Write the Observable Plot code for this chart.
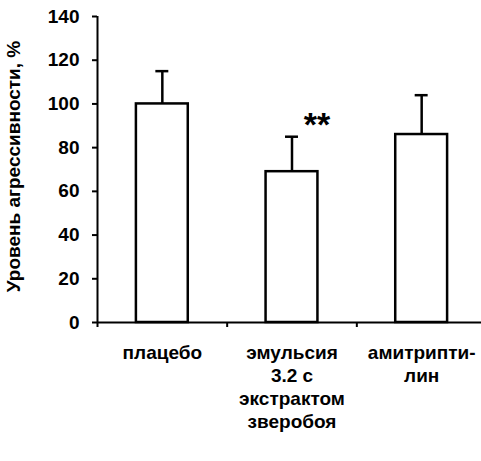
<!DOCTYPE html>
<html>
<head>
<meta charset="utf-8">
<script src="https://cdn.jsdelivr.net/npm/d3@7"></script>
<script src="https://cdn.jsdelivr.net/npm/@observablehq/plot@0.6"></script>
<style>
  html, body { margin: 0; padding: 0; background: #fff; }
</style>
</head>
<body>
<div id="chart"></div>
<script>
const categories = ["плацебо", "эмульсия\n3.2 с\nэкстрактом\nзверобоя", "амитрипти-\nлин"];
const values = [100, 69, 86];
const errors = [15, 16, 18];
const marks = ["", "**", ""];
const yTicks = [0, 20, 40, 60, 80, 100, 120, 140];
const yLabel = "Уровень агрессивности, %";

const data = categories.map((c, i) => ({i, c, v: values[i], e: errors[i], m: marks[i]}));
const center = d => d.i + 0.5;

const chart = Plot.plot({
  width: 481,
  height: 461,
  marginTop: 16,
  marginBottom: 139,
  marginLeft: 97,
  marginRight: 0,
  style: {fontFamily: "'Liberation Sans', Arial, sans-serif", fontSize: "19px", fontWeight: "bold", color: "black", background: "white"},
  x: {domain: [0, 3], range: [97, 486]},
  y: {domain: [0, 140]},
  marks: [
    Plot.rect(data, {x1: d => d.i + 0.3, x2: d => d.i + 0.7, y1: 0, y2: "v", fill: "white", stroke: "black", strokeWidth: 2.5}),
    Plot.ruleX(data, {x: center, y1: "v", y2: d => d.v + d.e, stroke: "black", strokeWidth: 2.5}),
    Plot.ruleY(data, {y: d => d.v + d.e, x1: d => d.i + 0.45, x2: d => d.i + 0.55, stroke: "black", strokeWidth: 2.5}),
    Plot.text(data.filter(d => d.m), {x: center, y: d => d.v + d.e, text: "m", dx: 25, dy: -12, fontSize: 34, fontWeight: "bold", lineAnchor: "middle", textAnchor: "middle"}),
    Plot.ruleY([0], {stroke: "black", strokeWidth: 2}),
    Plot.ruleX([0], {stroke: "black", strokeWidth: 2}),
    Plot.axisY({ticks: yTicks, tickSize: 5, tickPadding: 13, label: null, strokeWidth: 2}),
    Plot.axisX({ticks: [0, 1, 2, 3], tickSize: 5, tickFormat: () => "", label: null, strokeWidth: 2}),
    Plot.text(data, {x: center, y: 0, text: "c", lineAnchor: "top", dy: 20, lineHeight: 1.22, fontSize: 19}),
    Plot.text([yLabel], {text: d => d, frameAnchor: "left", rotate: -90, dx: -84, dy: -3, fontSize: 19, textAnchor: "middle", lineAnchor: "middle"})
  ]
});
document.getElementById("chart").appendChild(chart);
</script>
</body>
</html>
